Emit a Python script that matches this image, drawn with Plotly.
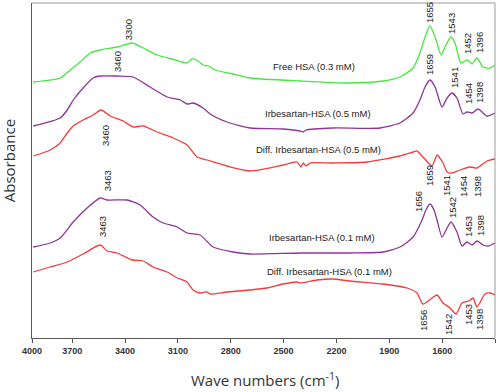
import plotly.graph_objects as go

# ---------------- data (wavenumber cm-1, absorbance a.u., offset stacked) ----------------
free_x = [3921, 3768, 3711, 3655, 3598, 3541, 3445, 3360, 3297, 3218, 3133, 3048, 3019, 2985, 2957, 2928,
          2889, 2787, 2690, 2406, 2123, 1935, 1839, 1765, 1726, 1697, 1669, 1640, 1606, 1584, 1550, 1527,
          1493, 1459, 1430, 1402, 1368, 1328, 1300]
free_y = [2.56, 2.60, 2.68, 2.76, 2.85, 2.88, 2.91, 2.95, 2.90, 2.83, 2.79, 2.75, 2.79, 2.77, 2.73, 2.72,
          2.68, 2.64, 2.60, 2.57, 2.55, 2.57, 2.61, 2.70, 2.85, 3.01, 3.12, 3.01, 2.83, 2.91, 3.01, 2.95,
          2.75, 2.78, 2.74, 2.80, 2.71, 2.70, 2.73]

irb05_x = [3921, 3768, 3728, 3694, 3638, 3581, 3541, 3445, 3354, 3258, 3161, 3087, 3048, 3014, 2957, 2917,
           2821, 2690, 2503, 2406, 2389, 2372, 2219, 1953, 1839, 1765, 1726, 1697, 1669, 1640, 1601, 1572,
           1544, 1516, 1482, 1459, 1430, 1396, 1345, 1300]
irb05_y = [2.12, 2.20, 2.28, 2.38, 2.50, 2.60, 2.62, 2.62, 2.61, 2.51, 2.41, 2.38, 2.34, 2.35, 2.30, 2.24,
           2.16, 2.10, 2.09, 2.07, 2.06, 2.08, 2.10, 2.10, 2.15, 2.25, 2.38, 2.51, 2.58, 2.51, 2.31, 2.40,
           2.45, 2.40, 2.24, 2.26, 2.25, 2.29, 2.22, 2.25]

diff05_x = [3921, 3825, 3768, 3728, 3694, 3638, 3581, 3536, 3484, 3411, 3354, 3297, 3218, 3127, 3048, 2991,
            2934, 2821, 2690, 2503, 2423, 2401, 2389, 2372, 2350, 2219, 2026, 1839, 1765, 1743, 1709, 1657,
            1629, 1595, 1572, 1544, 1499, 1442, 1402, 1345, 1300]
diff05_y = [1.82, 1.88, 1.95, 2.05, 2.12, 2.18, 2.23, 2.28, 2.22, 2.17, 2.11, 2.12, 2.06, 2.00, 1.93, 1.81,
            1.78, 1.72, 1.67, 1.73, 1.76, 1.71, 1.75, 1.72, 1.75, 1.75, 1.76, 1.82, 1.86, 1.87, 1.81, 1.72,
            1.83, 1.75, 1.66, 1.65, 1.68, 1.71, 1.70, 1.77, 1.79]

irb01_x = [3921, 3825, 3768, 3694, 3615, 3541, 3501, 3388, 3314, 3241, 3184, 3104, 3048, 2974, 2900, 2787,
           2690, 2406, 2123, 1935, 1839, 1765, 1714, 1692, 1669, 1646, 1629, 1601, 1572, 1550, 1516, 1487,
           1459, 1430, 1402, 1368, 1340, 1300]
irb01_y = [0.91, 0.95, 1.00, 1.16, 1.30, 1.40, 1.38, 1.38, 1.33, 1.21, 1.15, 1.11, 1.05, 1.03, 0.91, 0.86,
           0.84, 0.85, 0.85, 0.86, 0.91, 1.01, 1.18, 1.28, 1.34, 1.28, 1.18, 1.01, 1.10, 1.16, 1.06, 0.92,
           0.96, 0.93, 0.97, 0.93, 0.92, 0.95]

diff01_x = [3921, 3825, 3728, 3638, 3541, 3501, 3445, 3360, 3297, 3241, 3161, 3104, 3048, 3014, 2974, 2934,
            2917, 2821, 2690, 2594, 2503, 2423, 2406, 2310, 2219, 2123, 1935, 1799, 1743, 1709, 1657, 1629,
            1595, 1555, 1521, 1487, 1448, 1425, 1402, 1357, 1328, 1300]
diff01_y = [0.66, 0.71, 0.76, 0.84, 0.93, 0.87, 0.85, 0.78, 0.77, 0.71, 0.66, 0.60, 0.56, 0.48, 0.45, 0.46,
            0.44, 0.46, 0.48, 0.50, 0.54, 0.56, 0.55, 0.58, 0.59, 0.57, 0.54, 0.50, 0.45, 0.34, 0.40, 0.43,
            0.35, 0.30, 0.24, 0.35, 0.37, 0.40, 0.31, 0.44, 0.45, 0.43]

series_names = ["Free HSA (0.3 mM)", "Irbesartan-HSA (0.5 mM)", "Diff. Irbesartan-HSA (0.5 mM)",
                "Irbesartan-HSA (0.1 mM)", "Diff. Irbesartan-HSA (0.1 mM)"]
series_colors = ["#45e83f", "#8e3596", "#f23c3c", "#8e3596", "#f23c3c"]

# series label positions (wavenumber, absorbance)
label_x = [2327, 2304, 2304, 2282, 2242]
label_y = [2.72, 2.25, 1.89, 1.01, 0.67]

# peak labels
peak_text = ["3300", "3460", "3460", "3463", "3463",
             "1655", "1543", "1452", "1396",
             "1659", "1541", "1454", "1398",
             "1659", "1541", "1454", "1398",
             "1656", "1542", "1453", "1398",
             "1656", "1542", "1453", "1398"]
peak_x = [3382, 3445, 3513, 3501, 3530,
          1674, 1550, 1459, 1391,
          1674, 1533, 1453, 1391,
          1674, 1578, 1482, 1402,
          1737, 1544, 1453, 1385,
          1709, 1567, 1453, 1391]
peak_y = [3.08, 2.76, 2.02, 1.57, 1.11,
          3.25, 3.15, 2.95, 2.96,
          2.73, 2.61, 2.44, 2.46,
          1.62, 1.52, 1.52, 1.51,
          1.36, 1.30, 1.11, 1.12,
          0.18, 0.14, 0.23, 0.19]

tick_vals = [3928, 3700, 3400, 3100, 2800, 2500, 2200, 1900, 1600, 1300]
tick_text = ["4000", "3700", "3400", "3100", "2800", "2500", "2200", "1900", "1600", "1300"]

# ---------------- figure ----------------
fig = go.Figure()
xs = [free_x, irb05_x, diff05_x, irb01_x, diff01_x]
ys = [free_y, irb05_y, diff05_y, irb01_y, diff01_y]
for name, x, y, c in zip(series_names, xs, ys, series_colors):
    fig.add_trace(go.Scatter(x=x, y=y, mode="lines", name=name,
                             line=dict(color=c, width=1.3, shape="spline", smoothing=0.6),
                             showlegend=False, hoverinfo="skip"))

font_fam = "Liberation Sans, Arial, sans-serif"
for t, x, y in zip(series_names, label_x, label_y):
    fig.add_annotation(x=x, y=y, text=t, showarrow=False,
                       font=dict(family=font_fam, size=9.5, color="#222"))
for t, x, y in zip(peak_text, peak_x, peak_y):
    fig.add_annotation(x=x, y=y, text=t, showarrow=False, textangle=-90,
                       font=dict(family=font_fam, size=9.5, color="#222"))

fig.add_annotation(xref="paper", yref="paper", x=-0.048, y=0.53, text="Absorbance",
                   textangle=-90, showarrow=False, xanchor="center", yanchor="middle",
                   font=dict(family="Open Sans, sans-serif", size=15, color="#333"))
fig.add_annotation(xref="paper", yref="paper", x=0.503, y=-0.125,
                   text="Wave numbers (cm<sup>-1</sup>)", showarrow=False,
                   xanchor="center", yanchor="middle",
                   font=dict(family="Open Sans, sans-serif", size=15, color="#333"))

# top / right frame lines
fig.add_shape(type="line", xref="paper", yref="paper", x0=0, x1=1, y0=1, y1=1,
              line=dict(color="#999", width=1))
fig.add_shape(type="line", xref="paper", yref="paper", x0=1, x1=1, y0=0, y1=1,
              line=dict(color="#999", width=1))

fig.update_layout(
    width=502, height=392,
    margin=dict(l=32, r=7, t=3, b=54),
    paper_bgcolor="white", plot_bgcolor="white",
    xaxis=dict(range=[3928, 1300], tickvals=tick_vals, ticktext=tick_text,
               showgrid=False, zeroline=False, showline=True, linecolor="#555", linewidth=1,
               ticks="outside", ticklen=4, tickcolor="#555",
               tickfont=dict(family=font_fam, size=9, color="#333", weight="bold")),
    yaxis=dict(range=[0, 3.35], showgrid=False, zeroline=False, showline=True,
               linecolor="#555", linewidth=1, showticklabels=False, ticks=""),
)

fig.write_html("out.html", config={"displayModeBar": False},
               post_script="document.body.style.margin='0';document.body.style.overflow='hidden';")
